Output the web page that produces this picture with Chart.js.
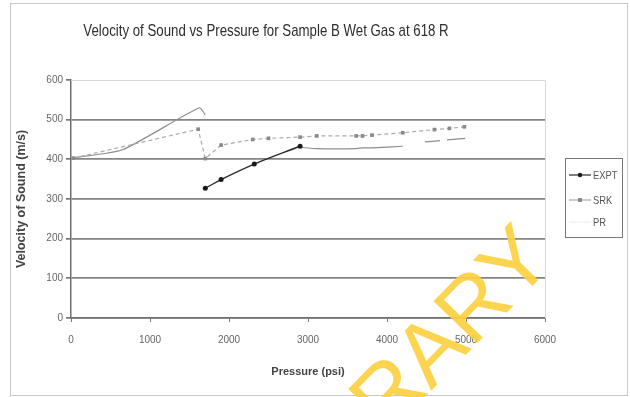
<!DOCTYPE html>
<html>
<head>
<meta charset="utf-8">
<script src="https://cdn.jsdelivr.net/npm/chart.js@4"></script>
<style>
  html, body { margin: 0; padding: 0; background: #fff; }
  #wrap { width: 630px; height: 397px; }
</style>
</head>
<body>
<div id="wrap"><canvas id="soundChart" width="630" height="397"></canvas></div>
<script>
// Values (pressure in psi, velocity in m/s).
// null marks a break in a line.
const exptPressure = [1700, 1900, 2320, 2900];
const exptVelocity = [327, 349, 388, 433];

const srkPressure = [30, 1610, 1700, 1900, 2300, 2500, 2900, 3110, 3610, 3690, 3810, 4200, 4600, 4790, 4980];
const srkVelocity = [403, 476, 402, 436, 450, 453, 456, 459, 459, 459, 461, 467, 475, 478, 482];

const prPressure = [30, 650, 1624, 1700, null, 2900, 3110, 3610, 3690, 3810, 4200, null, 4480, 4670, null, 4760, 4990];
const prVelocity = [404, 424, 530, 512, null, 430, 427, 427, 429, 429, 433, null, 444, 447, null, 449, 453];

const seriesNames = ["EXPT", "SRK", "PR"];
const chartTitle = "Velocity of Sound vs Pressure for Sample B Wet Gas at 618 R";
const xTicks = [0, 1000, 2000, 3000, 4000, 5000, 6000];
const yTicks = [0, 100, 200, 300, 400, 500, 600];

const FONT = "'Liberation Sans', Arial, sans-serif";

function toPoints(xs, ys) {
  return xs.map((x, i) => ({ x: x === null ? NaN : x, y: ys[i] === null ? NaN : ys[i] }));
}

// Title (narrow face), frame, Excel-style legend box and the library stamp.
const decorations = {
  id: "decorations",
  beforeDatasetsDraw(chart) {
    const { ctx, chartArea: a } = chart;
    ctx.save();
    ctx.strokeStyle = "#d8d8d8";
    ctx.lineWidth = 1;
    ctx.beginPath();
    ctx.moveTo(a.left, a.top + 0.5);
    ctx.lineTo(a.right + 0.5, a.top + 0.5);
    ctx.lineTo(a.right + 0.5, a.bottom);
    ctx.stroke();
    ctx.restore();
  },
  afterDraw(chart) {
    const ctx = chart.ctx;
    ctx.save();
    // outer chart border
    ctx.strokeStyle = "#c8c8c8";
    ctx.lineWidth = 1;
    ctx.strokeRect(10.5, 3.5, 617, 392);

    // title, squeezed to look like a narrow face
    ctx.save();
    ctx.translate(266, 31);
    ctx.scale(0.78, 1);
    ctx.fillStyle = "#2e2e2e";
    ctx.font = "17px " + FONT;
    ctx.textAlign = "center";
    ctx.textBaseline = "middle";
    ctx.fillText(chartTitle, 0, 0);
    ctx.restore();

    // legend
    ctx.strokeStyle = "#777";
    ctx.strokeRect(565.5, 158.5, 57, 79);
    const rows = [175, 200, 222];
    chart.data.datasets.forEach((ds, i) => {
      const y = rows[i];
      ctx.strokeStyle = ds.legendColor || ds.borderColor;
      ctx.lineWidth = 1.2;
      ctx.beginPath();
      ctx.moveTo(569, y);
      ctx.lineTo(591, y);
      ctx.stroke();
      if (ds.pointRadius > 0) {
        ctx.fillStyle = ds.pointBackgroundColor;
        ctx.beginPath();
        if (ds.pointStyle === "rect") ctx.rect(578, y - 2, 4, 4);
        else ctx.arc(580, y, 2.2, 0, Math.PI * 2);
        ctx.fill();
      }
      ctx.save();
      ctx.translate(593, y + 1);
      ctx.scale(0.85, 1);
      ctx.fillStyle = "#555";
      ctx.font = "11px " + FONT;
      ctx.textBaseline = "middle";
      ctx.fillText(ds.label, 0, 0);
      ctx.restore();
    });

    // yellow library stamp
    ctx.translate(556, 262);
    ctx.rotate(-0.8);
    ctx.fillStyle = "rgba(252, 208, 64, 0.92)";
    ctx.font = "88px " + FONT;
    ctx.textAlign = "right";
    ctx.textBaseline = "alphabetic";
    ctx.fillText("LIBRARY", 0, 0);
    ctx.restore();
  },
};

const ctx = document.getElementById("soundChart").getContext("2d");

new Chart(ctx, {
  type: "scatter",
  data: {
    datasets: [
      {
        label: seriesNames[0],
        data: toPoints(exptPressure, exptVelocity),
        showLine: true,
        borderColor: "#2b2b2b",
        borderWidth: 1.4,
        tension: 0.4,
        pointStyle: "circle",
        pointRadius: 2.5,
        pointBackgroundColor: "#1a1a1a",
        pointBorderWidth: 0,
      },
      {
        label: seriesNames[1],
        data: toPoints(srkPressure, srkVelocity),
        showLine: true,
        borderColor: "#ababab",
        borderWidth: 1.2,
        borderDash: [4, 3],
        tension: 0,
        pointStyle: "rect",
        pointRadius: 2.6,
        pointBackgroundColor: "#8a8a8a",
        pointBorderWidth: 0,
      },
      {
        label: seriesNames[2],
        data: toPoints(prPressure, prVelocity),
        showLine: true,
        borderColor: "#8e8e8e",
        legendColor: "#eeeeee",
        borderWidth: 1.2,
        tension: 0.2,
        pointRadius: 0,
      },
    ],
  },
  options: {
    responsive: false,
    animation: false,
    spanGaps: false,
    layout: { padding: { top: 80, left: 10, right: 85, bottom: 0 } },
    plugins: {
      legend: { display: false },
      tooltip: { enabled: false },
      title: { display: false },
    },
    scales: {
      x: {
        type: "linear",
        min: 0,
        max: 6000,
        afterBuildTicks: (s) => { s.ticks = xTicks.map((v) => ({ value: v })); },
        afterFit: (s) => { s.height = 79; },
        grid: { drawOnChartArea: false, tickLength: 4, color: "#777" },
        border: { color: "#6f6f6f", width: 1.5 },
        ticks: {
          color: "#666",
          padding: 12,
          font: { family: FONT, size: 10 },
          maxRotation: 0,
          callback: (v) => String(v),
        },
        title: {
          display: true,
          text: "Pressure (psi)",
          color: "#444",
          font: { family: FONT, size: 11, weight: "bold" },
          padding: { top: 0, bottom: 18 },
        },
      },
      y: {
        min: 0,
        max: 600,
        afterBuildTicks: (s) => { s.ticks = yTicks.map((v) => ({ value: v })); },
        afterFit: (s) => { s.width = 61; },
        grid: {
          color: (c) => (c.tick && c.tick.value === 600 ? "rgba(0,0,0,0)" : "#858585"),
          tickColor: "#777",
          lineWidth: 1.7,
          tickLength: 5,
        },
        border: { color: "#6f6f6f", width: 1.5 },
        ticks: { color: "#666", padding: 3, font: { family: FONT, size: 10 }, callback: (v) => String(v) },
        title: {
          display: true,
          text: "Velocity of Sound (m/s)",
          color: "#444",
          font: { family: FONT, size: 12.5, weight: "bold" },
          padding: { top: 4, bottom: 0 },
        },
      },
    },
  },
  plugins: [decorations],
});
</script>
</body>
</html>
